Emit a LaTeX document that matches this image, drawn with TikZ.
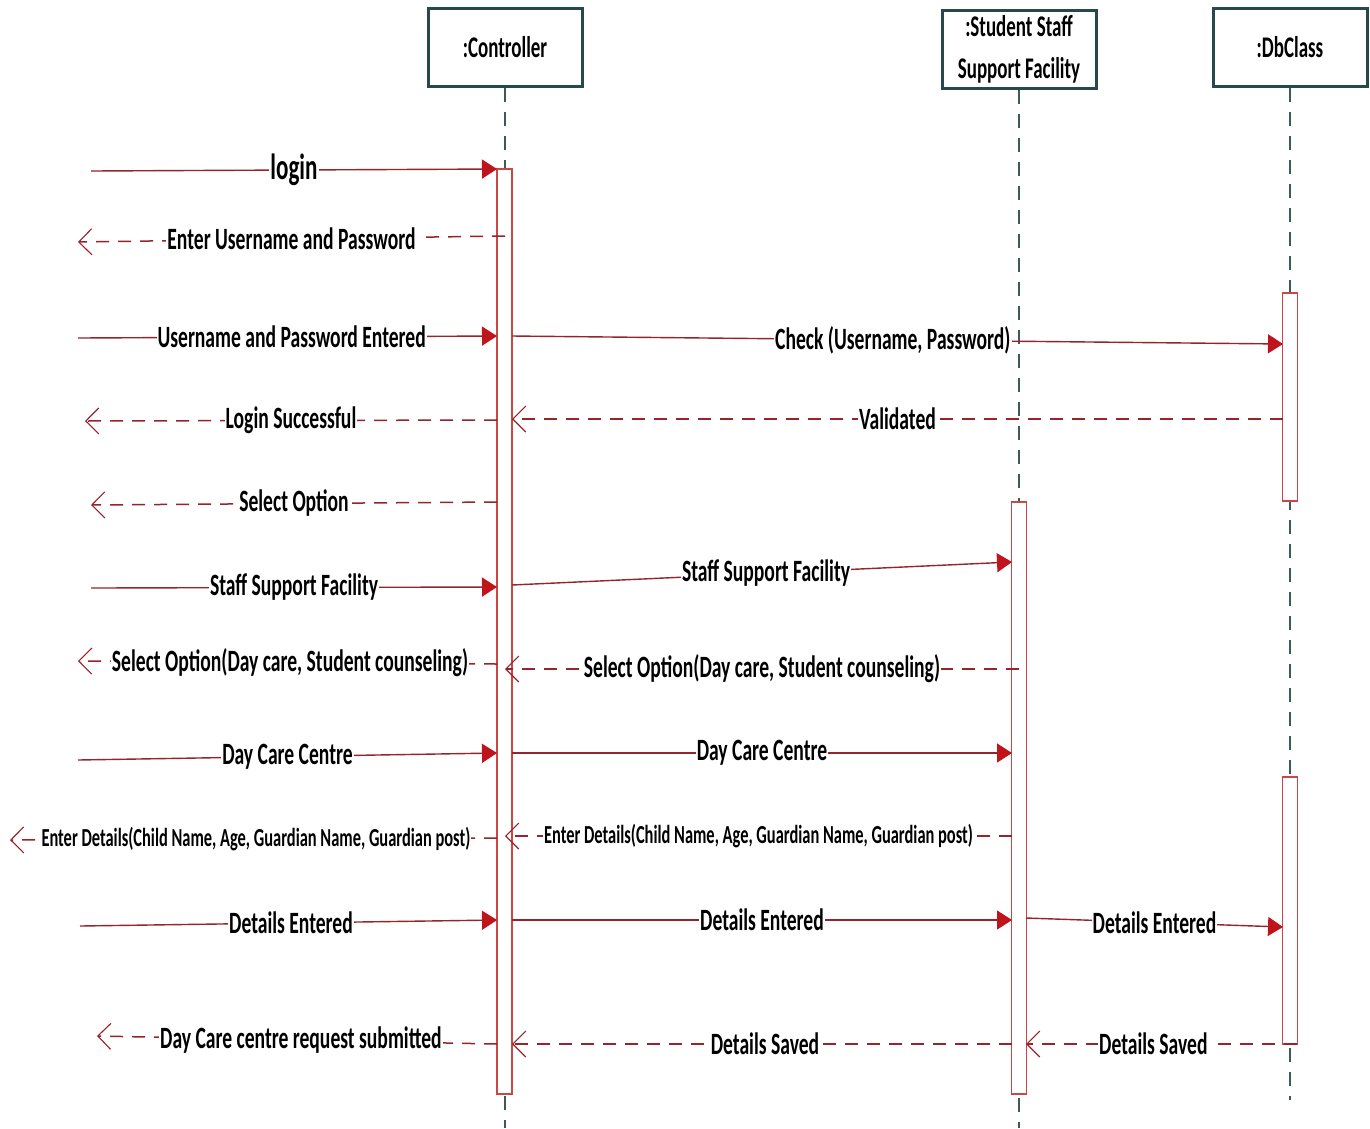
\documentclass[tikz,border=0pt]{standalone}
\usepackage{fontspec}
\setmainfont{Carlito}[FakeStretch=0.632]
\usetikzlibrary{arrows.meta}

\definecolor{headline}{RGB}{38,74,74}
\definecolor{lifeline}{RGB}{60,90,92}
\definecolor{msgred}{RGB}{150,36,42}
\definecolor{tipred}{RGB}{192,20,28}
\definecolor{barred}{RGB}{205,70,70}

\tikzset{
  header/.style={draw=headline, line width=3pt, fill=white, minimum width=154pt,
    minimum height=78pt, align=center, inner sep=0pt, font=\bfseries\fontsize{30}{42}\selectfont},
  life/.style={draw=lifeline, line width=1.2pt, dash pattern=on 14pt off 10pt},
  actbar/.style={draw=barred, line width=1.3pt, fill=white, minimum width=15pt, inner sep=0pt},
  call/.style={draw=msgred, line width=1.4pt,
    -{Triangle[length=15pt,width=19pt,fill=tipred,color=tipred]}},
  reply/.style={draw=msgred, line width=1.5pt, dash pattern=on 13pt off 9pt,
    -{Straight Barb[length=13pt,width=26pt,line width=1.1pt]}},
  lbl/.style={fill=white, inner sep=1pt, text=black, font=\bfseries\fontsize{31}{33}\selectfont},
  biglbl/.style={lbl, font=\bfseries\fontsize{36.5}{38}\selectfont},
  smalllbl/.style={lbl, font=\bfseries\fontsize{26}{28}\selectfont},
}

\begin{document}
\begin{tikzpicture}[x=1pt, y=-1pt]
\useasboundingbox[fill=white] (0,0) rectangle (1370,1128);

% object headers
\node[header] (ctrl) at (505,47) {:Controller};
\node[header] (sssf) at (1019,49) {:Student Staff\\Support Facility};
\node[header] (db)   at (1290,47) {:DbClass};

% lifelines
\coordinate (ctrlend) at (505,1128);
\coordinate (sssfend) at (1019,1128);
\coordinate (dbend)   at (1290,1100);
\draw[life] (ctrl.south) -- (ctrlend);
\draw[life] (sssf.south) -- (sssfend);
\draw[life] (db.south) -- (dbend);

% activation bars
\node[actbar, minimum height=925pt] (ctrlbar) at (504.5,631.5) {};
\node[actbar, minimum height=592pt] (sssfbar) at (1019,798) {};
\node[actbar, minimum height=208pt] (dbbarA)  at (1290,397) {};
\node[actbar, minimum height=267pt] (dbbarB)  at (1290,910.5) {};

% message end points
\coordinate (m1a) at (91,171);   \coordinate (m1b) at (497,169);
\coordinate (m2a) at (505,236);  \coordinate (m2b) at (78,242);
\coordinate (m3a) at (78,338);   \coordinate (m3b) at (497,336);
\coordinate (m4a) at (512,336);  \coordinate (m4b) at (1283,344);
\coordinate (m5a) at (1283,419); \coordinate (m5b) at (512,419);
\coordinate (m6a) at (497,420);  \coordinate (m6b) at (85,421);
\coordinate (m7a) at (497,502);  \coordinate (m7b) at (91,505);
\coordinate (m8a) at (91,588);   \coordinate (m8b) at (497,587);
\coordinate (m9a) at (512,585);  \coordinate (m9b) at (1012,562);
\coordinate (m10a) at (1019,669); \coordinate (m10b) at (505,669);
\coordinate (m11a) at (497,664);  \coordinate (m11b) at (78,661);
\coordinate (m12a) at (78,760);   \coordinate (m12b) at (497,753);
\coordinate (m13a) at (512,753);  \coordinate (m13b) at (1012,753);
\coordinate (m14a) at (1012,836); \coordinate (m14b) at (505,836);
\coordinate (m15a) at (497,838);  \coordinate (m15b) at (10,840);
\coordinate (m16a) at (80,926);   \coordinate (m16b) at (497,920);
\coordinate (m17a) at (512,920);  \coordinate (m17b) at (1012,920);
\coordinate (m18a) at (1026,918); \coordinate (m18b) at (1283,927);
\coordinate (m19a) at (1297,1044); \coordinate (m19b) at (1026,1044);
\coordinate (m20a) at (1012,1044); \coordinate (m20b) at (512,1044);
\coordinate (m21a) at (497,1044);  \coordinate (m21b) at (97,1036);

% messages
\draw[call]  (m1a) -- node[biglbl] (l1) {login} (m1b);
\draw[reply] (m2a) -- node[lbl] (l2) {Enter Username and Password} (m2b);
\draw[call]  (m3a) -- node[lbl, pos=0.51] (l3) {Username and Password Entered} (m3b);
\draw[call]  (m4a) -- node[lbl, pos=0.494] (l4) {Check (Username, Password)} (m4b);
\draw[reply] (m5a) -- node[lbl] (l5) {Validated} (m5b);
\draw[reply] (m6a) -- node[lbl] (l6) {Login Successful} (m6b);
\draw[reply] (m7a) -- node[lbl] (l7) {Select Option} (m7b);
\draw[call]  (m8a) -- node[lbl] (l8) {Staff Support Facility} (m8b);
\draw[call]  (m9a) -- node[lbl, pos=0.508] (l9) {Staff Support Facility} (m9b);
\draw[reply] (m10a) -- node[lbl] (l10) {Select Option(Day care, Student counseling)} (m10b);
\draw[reply] (m11a) -- node[lbl, pos=0.494] (l11) {Select Option(Day care, Student counseling)} (m11b);
\draw[call]  (m12a) -- node[lbl] (l12) {Day Care Centre} (m12b);
\draw[call]  (m13a) -- node[lbl] (l13) {Day Care Centre} (m13b);
\draw[reply] (m14a) -- node[smalllbl] (l14) {Enter Details(Child Name, Age, Guardian Name, Guardian post)} (m14b);
\draw[reply] (m15a) -- node[smalllbl, pos=0.495] (l15) {Enter Details(Child Name, Age, Guardian Name, Guardian post)} (m15b);
\draw[call]  (m16a) -- node[lbl, pos=0.506] (l16) {Details Entered} (m16b);
\draw[call]  (m17a) -- node[lbl] (l17) {Details Entered} (m17b);
\draw[call]  (m18a) -- node[lbl] (l18) {Details Entered} (m18b);
\draw[reply] (m19a) -- node[lbl, pos=0.53] (l19) {Details Saved} (m19b);
\draw[reply] (m20a) -- node[lbl, pos=0.494] (l20) {Details Saved} (m20b);
\draw[reply] (m21a) -- node[lbl, pos=0.49] (l21) {Day Care centre request submitted} (m21b);
\end{tikzpicture}
\end{document}
